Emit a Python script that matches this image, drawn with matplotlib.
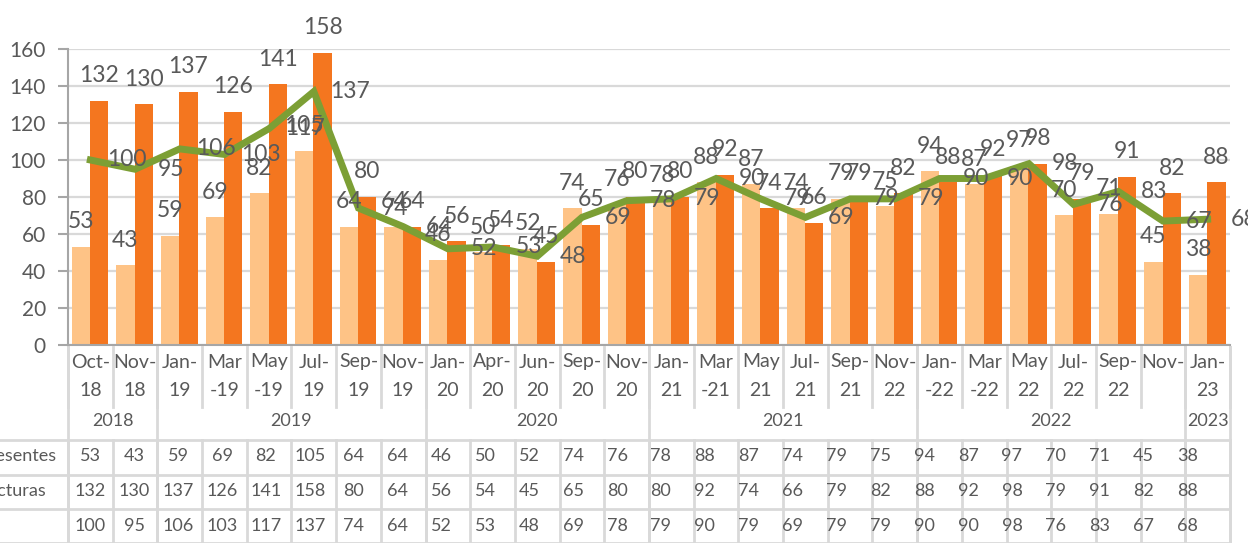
import matplotlib.pyplot as plt
from matplotlib import transforms

# data
cat_top = ['Oct-', 'Nov-', 'Jan-', 'Mar', 'May', 'Jul-', 'Sep-', 'Nov-', 'Jan-', 'Apr-',
           'Jun-', 'Sep-', 'Nov-', 'Jan-', 'Mar', 'May', 'Jul-', 'Sep-', 'Nov-', 'Jan-',
           'Mar', 'May', 'Jul-', 'Sep-', 'Nov-', 'Jan-']
cat_bot = ['18', '18', '19', '-19', '-19', '19', '19', '19', '20', '20',
           '20', '20', '20', '21', '-21', '21', '21', '21', '22', '-22',
           '-22', '22', '22', '22', '', '23']
years = ['2018', '2019', '2020', '2021', '2022', '2023']
year_counts = [2, 6, 5, 6, 6, 1]

presentes = [53, 43, 59, 69, 82, 105, 64, 64, 46, 50, 52, 74, 76, 78, 88, 87, 74, 79,
             75, 94, 87, 97, 70, 71, 45, 38]
facturas = [132, 130, 137, 126, 141, 158, 80, 64, 56, 54, 45, 65, 80, 80, 92, 74, 66, 79,
            82, 88, 92, 98, 79, 91, 82, 88]
media = [100, 95, 106, 103, 117, 137, 74, 64, 52, 53, 48, 69, 78, 79, 90, 79, 69, 79,
         79, 90, 90, 98, 76, 83, 67, 68]
row_names = ['Presentes', 'Facturas', '']

light = '#FEC386'
dark = '#F4761F'
green = '#7C9F35'
txt = '#595959'
grid = '#D9D9D9'

plt.rcParams['font.family'] = ['Lato', 'DejaVu Sans']

W, H = 1248, 543
fig = plt.figure(figsize=(W / 100, H / 100), dpi=100)
ax = fig.add_axes([68 / W, 198 / H, 1162 / W, 296 / H])

n = len(presentes)
x = list(range(n))
bw = 0.41
xl = [i - 0.215 for i in x]
xd = [i + 0.195 for i in x]

ax.bar(xl, presentes, width=bw, color=light, zorder=2)
ax.bar(xd, facturas, width=bw, color=dark, zorder=2)
ax.plot(x, media, color=green, lw=5, zorder=3, solid_joinstyle='miter')

lab_kw = dict(textcoords='offset points', va='center', fontsize=16.5, color=txt,
              zorder=4, annotation_clip=False)
for xi, v in zip(xl, presentes):
    ax.annotate(str(v), (xi, v), xytext=(0, 18), ha='center', **lab_kw)
for xi, v in zip(xd, facturas):
    ax.annotate(str(v), (xi, v), xytext=(0, 18), ha='center', **lab_kw)
for xi, v in zip(x, media):
    ax.annotate(str(v), (xi, v), xytext=(26, 0), ha='center', **lab_kw)

ax.set_xlim(-0.5, n - 0.5)
ax.set_ylim(0, 160)
ax.set_yticks(range(0, 161, 20))
ax.set_xticks([])
ax.yaxis.grid(True, color=grid, lw=1.6, zorder=0)
ax.set_axisbelow(True)
for s in ['top', 'right']:
    ax.spines[s].set_visible(False)
ax.spines['left'].set_color('#A6A6A6')
ax.spines['bottom'].set_color('#A6A6A6')
ax.spines['left'].set_linewidth(1.5)
ax.spines['bottom'].set_linewidth(1.5)
ax.tick_params(axis='y', length=7, width=1.5, color='#A6A6A6', pad=9,
               labelsize=15, labelcolor=txt)

# data table below the axis
tr = transforms.blended_transform_factory(ax.transData, ax.transAxes)
def fy(py):
    return (345 - py) / 296

line_kw = dict(color=grid, lw=2, transform=tr, clip_on=False, zorder=1)
left_edge = -3.0
right_edge = n - 0.5

# category label row
for i in range(n):
    ax.text(i, fy(362), cat_top[i], transform=tr, ha='center', va='center',
            fontsize=14, color=txt)
    ax.text(i, fy(390), cat_bot[i], transform=tr, ha='center', va='center',
            fontsize=14, color=txt)
for i in range(n + 1):
    ax.plot([i - 0.5, i - 0.5], [fy(347), fy(407)], **line_kw)

# year row
start = 0
for yr, cnt in zip(years, year_counts):
    mid = start + (cnt - 1) / 2
    ax.text(mid, fy(421), yr, transform=tr, ha='center', va='center',
            fontsize=13, color=txt)
    ax.plot([start - 0.5, start - 0.5], [fy(347), fy(560)], **line_kw)
    start += cnt
ax.plot([right_edge, right_edge], [fy(347), fy(560)], **line_kw)

# value rows
for py in [440, 475, 509, 543]:
    ax.plot([left_edge, right_edge], [fy(py), fy(py)], **line_kw)
for i in range(n + 1):
    ax.plot([i - 0.5, i - 0.5], [fy(440), fy(560)], **line_kw)

table_pitch = 0.982
rows = [presentes, facturas, media]
for r, (vals, py) in enumerate(zip(rows, [456, 491, 526])):
    for i, v in enumerate(vals):
        ax.text(i * table_pitch, fy(py), str(v), transform=tr, ha='center',
                va='center', fontsize=13, color=txt)
    fig.text(-22 / W, 1 - py / H, row_names[r], ha='left', va='center',
             fontsize=13, color=txt)

fig.savefig('out.png', dpi=100)
